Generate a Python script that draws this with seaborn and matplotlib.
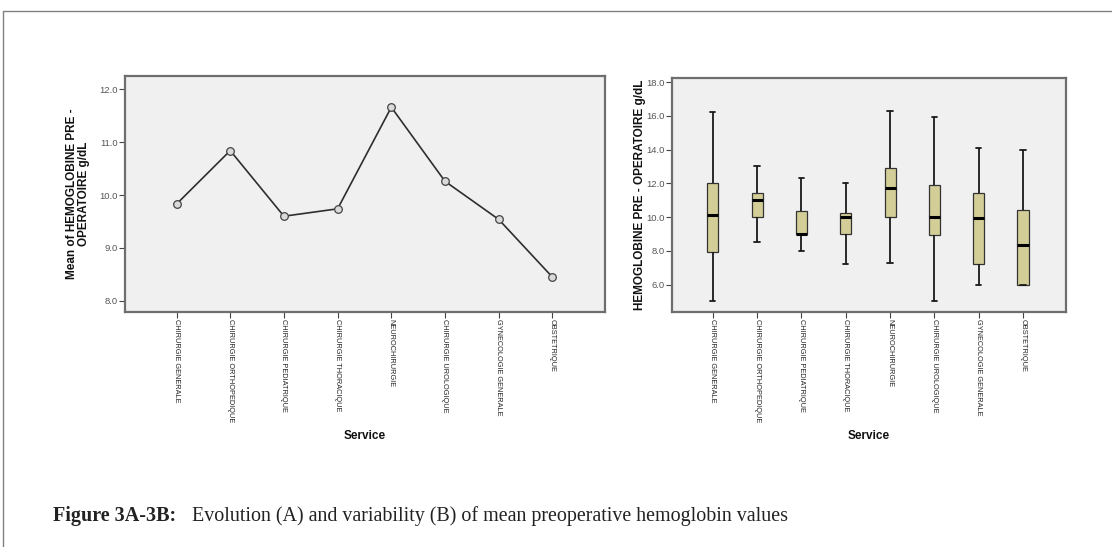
import numpy as np
import pandas as pd
import matplotlib
matplotlib.use("Agg")
import matplotlib.pyplot as plt
from matplotlib.lines import Line2D
import seaborn as sns

# ---------------- data ----------------
services = ["CHIRURGIE GENERALE", "CHIRURGIE ORTHOPEDIQUE", "CHIRURGIE PEDIATRIQUE",
            "CHIRURGIE THORACIQUE", "NEUROCHIRURGIE", "CHIRURGIE UROLOGIQUE",
            "GYNECOLOGIE GENERALE", "OBSTETRIQUE"]
mean_hb = [9.83, 10.84, 9.60, 9.74, 11.66, 10.26, 9.54, 8.45]

whisk_low = [5.0, 8.5, 8.0, 7.2, 7.3, 5.0, 6.0, 6.0]
q1        = [7.95, 10.0, 9.0, 9.0, 10.0, 8.95, 7.2, 6.0]
median    = [10.1, 11.0, 9.0, 10.0, 11.7, 10.0, 9.95, 8.35]
q3        = [12.0, 11.4, 10.35, 10.25, 12.9, 11.9, 11.4, 10.4]
whisk_high = [16.2, 13.0, 12.3, 12.0, 16.3, 15.9, 14.1, 14.0]

left_yticks = [8.0, 9.0, 10.0, 11.0, 12.0]
right_yticks = [6.0, 8.0, 10.0, 12.0, 14.0, 16.0, 18.0]

# ---------------- style ----------------
sns.set_style("white")
plt.rcParams["font.family"] = ["Liberation Sans", "DejaVu Sans"]

W, H = 1112, 547
fig = plt.figure(figsize=(W / 100, H / 100), dpi=100)

bg = "#F0F0F0"
frame_col = "#6E6E6E"
tick_col = "#555555"

def style_axes(ax):
    ax.set_facecolor(bg)
    for s in ax.spines.values():
        s.set_color(frame_col)
        s.set_linewidth(1.6)
    ax.tick_params(axis="y", direction="out", length=4, width=0.8, color="#444444",
                   labelsize=6.8, labelcolor=tick_col, pad=1, left=True)
    ax.tick_params(axis="x", direction="out", length=4, width=0.8, color="#444444",
                   labelsize=5.3, labelcolor="#222222", pad=1, bottom=True)
    for lab in ax.get_xticklabels():
        lab.set_rotation(270)
        lab.set_va("top")
        lab.set_ha("center")
    ax.grid(False)

# ---------------- left: line of means ----------------
axL = fig.add_axes([125 / W, 1 - 312 / H, 480 / W, 236 / H])
dfL = pd.DataFrame({"Service": services, "mean": mean_hb})
sns.lineplot(data=dfL, x="Service", y="mean", ax=axL, color="#2E2E2E", linewidth=1.2,
             marker="o", markersize=5.5, markerfacecolor="#DADADA",
             markeredgecolor="#444444", markeredgewidth=0.9, sort=False)
axL.set_xlim(-0.96, 7.98)
axL.set_ylim(7.79, 12.25)
axL.set_yticks(left_yticks)
axL.set_yticklabels([f"{v:.1f}" for v in left_yticks])
axL.set_xticks(range(len(services)))
axL.set_xticklabels(services)
style_axes(axL)
axL.set_ylabel("Mean of HEMOGLOBINE PRE -\nOPERATOIRE g/dL", fontsize=8.5,
               fontweight="bold", color="#111111", linespacing=1.0)
axL.yaxis.set_label_coords(-0.072, 0.5)
axL.set_xlabel("Service", fontsize=8.5, fontweight="bold", color="#111111")
axL.xaxis.set_label_coords(0.5, -0.5)

# ---------------- right: boxplots ----------------
axR = fig.add_axes([672 / W, 1 - 312 / H, 394 / W, 234 / H])
rows = []
for i, s in enumerate(services):
    for v in (whisk_low[i], q1[i], median[i], q3[i], whisk_high[i]):
        rows.append({"Service": s, "hb": v})
dfR = pd.DataFrame(rows)
sns.boxplot(data=dfR, x="Service", y="hb", order=services, ax=axR,
            whis=(0, 100), width=0.25, color="#D3CE97", saturation=1,
            linecolor="#222222", linewidth=1.0, showfliers=False,
            medianprops={"color": "black", "linewidth": 2.2},
            whiskerprops={"color": "#1A1A1A", "linewidth": 1.3},
            capprops={"color": "#1A1A1A", "linewidth": 1.3},
            boxprops={"edgecolor": "#333333", "linewidth": 0.9},
            capwidths=0.12)
axR.set_xlim(-0.92, 7.97)
axR.set_ylim(4.37, 18.24)
axR.set_yticks(right_yticks)
axR.set_yticklabels([f"{v:.1f}" for v in right_yticks])
axR.set_xticks(range(len(services)))
axR.set_xticklabels(services)
style_axes(axR)
axR.set_ylabel("HEMOGLOBINE PRE - OPERATOIRE g/dL", fontsize=8.5,
               fontweight="bold", color="#111111")
axR.yaxis.set_label_coords(-0.066, 0.5)
axR.set_xlabel("Service", fontsize=8.5, fontweight="bold", color="#111111")
axR.xaxis.set_label_coords(0.5, -0.504)

# ---------------- outer frame and caption ----------------
fig.add_artist(Line2D([3 / W, 1.0], [1 - 11 / H, 1 - 11 / H], color="#808080", linewidth=1.0))
fig.add_artist(Line2D([3 / W, 3 / W], [0.0, 1 - 11 / H], color="#808080", linewidth=1.0))

fig.text(53 / W, 1 - 521 / H, "Figure 3A-3B:", fontsize=14.5, fontweight="bold",
         family=["Liberation Serif", "DejaVu Serif"], color="#222222", va="baseline")
fig.text(192 / W, 1 - 521 / H,
         "Evolution (A) and variability (B) of mean preoperative hemoglobin values",
         fontsize=14.4, family=["Liberation Serif", "DejaVu Serif"], color="#222222",
         va="baseline")

fig.savefig("out.png", dpi=100, facecolor="white")
